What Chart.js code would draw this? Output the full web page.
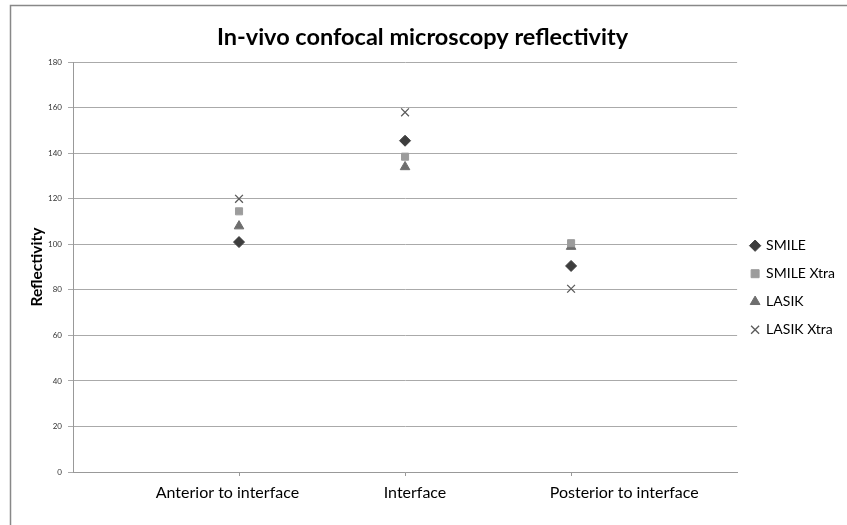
<!DOCTYPE html>
<html><head><meta charset="utf-8">
<script src="https://cdn.jsdelivr.net/npm/chart.js@4"></script>
<style>html,body{margin:0;padding:0;background:#fff;}#wrap{width:847px;height:525px;position:relative;}</style>
</head><body><div id="wrap"><canvas id="c"></canvas></div>
<script>
const categories = ["Anterior to interface", "Interface", "Posterior to interface"];
const smile = [101, 145.5, 90.5];
const smileXtra = [114.5, 138.5, 100.5];
const lasik = [108, 134, 99];
const lasikXtra = [120, 158, 80.5];
const yTicks = [0, 20, 40, 60, 80, 100, 120, 140, 160, 180];

// where the category text boxes sit along the x axis (axis units)
const LABEL_AT = [0.93, 2.06, 3.32];

const toPts = arr => arr.map((v, i) => ({x: i + 1, y: v}));
const FONT = "Lato, 'Open Sans', sans-serif";

const framePlugin = {
  id: 'frame',
  beforeDraw(chart) {
    const ctx = chart.ctx;
    ctx.save();
    ctx.fillStyle = '#fff';
    ctx.fillRect(0, 0, chart.width, chart.height);
    ctx.strokeStyle = '#888';
    ctx.lineWidth = 1.5;
    ctx.strokeRect(10.5, 5.5, chart.width + 20, chart.height + 20);
    ctx.restore();
  }
};

new Chart(document.getElementById('c'), {
  type: 'scatter',
  data: {
    datasets: [
      {label: 'SMILE', data: toPts(smile), pointStyle: 'rectRot', pointRadius: 5.5, backgroundColor: '#3d3d3d', borderColor: '#3d3d3d', borderWidth: 1},
      {label: 'SMILE Xtra', data: toPts(smileXtra), pointStyle: 'rect', pointRadius: 5, backgroundColor: '#9c9c9c', borderColor: '#9c9c9c', borderWidth: 1},
      {label: 'LASIK', data: toPts(lasik), pointStyle: 'triangle', pointRadius: 5.5, backgroundColor: '#6e6e6e', borderColor: '#6e6e6e', borderWidth: 1},
      {label: 'LASIK Xtra', data: toPts(lasikXtra), pointStyle: 'crossRot', pointRadius: 5.5, backgroundColor: '#5a5a5a', borderColor: '#5a5a5a', borderWidth: 1.3}
    ]
  },
  options: {
    responsive: true,
    maintainAspectRatio: false,
    animation: false,
    layout: {padding: {left: 0, right: 2, top: 0, bottom: 0}},
    plugins: {
      title: {
        display: true,
        text: 'In-vivo confocal microscopy reflectivity',
        font: {family: FONT, size: 23.5, weight: 'bold'},
        color: '#000',
        padding: {top: 23, bottom: 11}
      },
      legend: {
        position: 'right',
        title: {display: true, text: ' ', font: {size: 12}, padding: {top: 18, bottom: 18}},
        labels: {
          usePointStyle: true,
          boxWidth: 8,
          boxHeight: 8,
          padding: 14,
          color: '#000',
          font: {family: FONT, size: 14}
        }
      },
      tooltip: {enabled: false}
    },
    scales: {
      x: {
        type: 'linear',
        position: 'bottom',
        min: 0,
        max: 4,
        afterBuildTicks(scale) { scale.ticks = categories.map((c, i) => ({value: i + 1})); },
        afterFit(scale) { scale.height = 5; },
        ticks: {display: false},
        grid: {drawOnChartArea: false, drawTicks: true, tickLength: 4, color: '#999'},
        border: {color: '#999', width: 1}
      },
      x2: {
        type: 'linear',
        position: 'bottom',
        min: 0,
        max: 4,
        afterBuildTicks(scale) { scale.ticks = LABEL_AT.map(v => ({value: v})); },
        afterFit(scale) { scale.height = 48; },
        ticks: {
          callback: (v, i) => categories[i],
          font: {family: FONT, size: 16},
          color: '#000',
          padding: 6,
          maxRotation: 0,
          autoSkip: false
        },
        grid: {display: false, drawTicks: false},
        border: {display: false}
      },
      y: {
        min: 0,
        max: 180,
        afterBuildTicks(scale) { scale.ticks = yTicks.map(v => ({value: v})); },
        afterFit(scale) { scale.width = 73; },
        ticks: {
          font: {family: FONT, size: 8},
          color: '#333',
          padding: 6
        },
        title: {
          display: true,
          text: 'Reflectivity',
          font: {family: FONT, size: 15.5, weight: 'bold'},
          color: '#000',
          padding: {top: 28, bottom: 0}
        },
        grid: {color: '#aaa', lineWidth: 1, tickLength: 5},
        border: {color: '#999', width: 1}
      }
    }
  },
  plugins: [framePlugin]
});
</script></body></html>
